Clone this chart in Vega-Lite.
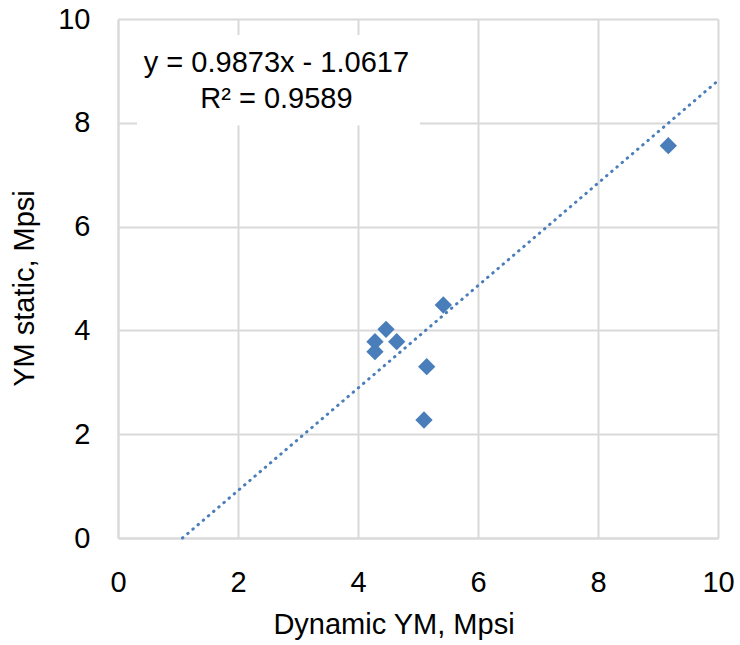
{
  "$schema": "https://vega.github.io/schema/vega-lite/v6.json",
  "autosize": {"type": "none"},
  "width": 600,
  "height": 519,
  "padding": {"left": 118, "top": 19, "right": 22, "bottom": 107},
  "background": "white",
  "config": {
    "view": {"stroke": null},
    "font": "Liberation Sans",
    "axis": {
      "labelFont": "Liberation Sans",
      "titleFont": "Liberation Sans",
      "labelFontSize": 29,
      "titleFontSize": 29,
      "labelColor": "#000000",
      "titleColor": "#000000",
      "titleFontWeight": "normal",
      "gridColor": "#d9d9d9",
      "gridWidth": 2,
      "domainColor": "#d9d9d9",
      "domainWidth": 2,
      "ticks": false,
      "labelFlush": false,
      "labelOverlap": false,
      "format": "d"
    }
  },
  "datasets": {
    "samples": [
      {"dynamic": 4.467, "static": 4.021},
      {"dynamic": 4.283, "static": 3.782},
      {"dynamic": 4.283, "static": 3.59},
      {"dynamic": 4.645, "static": 3.782},
      {"dynamic": 5.422, "static": 4.489},
      {"dynamic": 5.145, "static": 3.301},
      {"dynamic": 5.1, "static": 2.274},
      {"dynamic": 9.172, "static": 7.559}
    ],
    "trend": [
      {"dynamic": 1.0754, "static": 0},
      {"dynamic": 10, "static": 8.8113}
    ]
  },
  "layer": [
    {
      "data": {"name": "trend"},
      "mark": {
        "type": "line",
        "color": "#4a7ebb",
        "strokeWidth": 3,
        "strokeCap": "round",
        "strokeDash": [0.5, 6.3]
      },
      "encoding": {
        "x": {
          "field": "dynamic",
          "type": "quantitative",
          "scale": {"domain": [0, 10], "nice": false, "zero": false},
          "axis": {
            "values": [0, 2, 4, 6, 8, 10],
            "format": "d",
            "labelFlush": false,
            "labelPadding": 30,
            "labelBaseline": "top",
            "title": "Dynamic YM, Mpsi",
            "titleX": 275.5,
            "titleY": 95,
            "titleBaseline": "alphabetic"
          }
        },
        "y": {
          "field": "static",
          "type": "quantitative",
          "scale": {"domain": [0, 10], "nice": false, "zero": false},
          "axis": {
            "values": [0, 2, 4, 6, 8, 10],
            "format": "d",
            "labelFlush": false,
            "labelPadding": 28,
            "title": "YM static, Mpsi",
            "titleAngle": -90,
            "titleX": -85,
            "titleY": 269,
            "titleAlign": "center",
            "titleBaseline": "alphabetic"
          }
        }
      }
    },
    {
      "data": {"name": "samples"},
      "mark": {"type": "point", "shape": "diamond", "filled": true, "size": 300, "color": "#4a7ebb", "opacity": 1},
      "encoding": {
        "x": {"field": "dynamic", "type": "quantitative"},
        "y": {"field": "static", "type": "quantitative"}
      }
    },
    {
      "data": {"values": [{}]},
      "mark": {"type": "rect", "color": "white"},
      "encoding": {
        "x": {"datum": 0.317},
        "x2": {"datum": 5.033},
        "y": {"datum": 9.69},
        "y2": {"datum": 7.95}
      }
    },
    {
      "data": {"values": [{"line": "y = 0.9873x - 1.0617", "at": 8.979}, {"line": "R² = 0.9589", "at": 8.285}]},
      "mark": {"type": "text", "font": "Liberation Sans", "fontSize": 29, "color": "#000000", "align": "center", "baseline": "alphabetic"},
      "encoding": {
        "x": {"datum": 2.64},
        "y": {"field": "at", "type": "quantitative"},
        "text": {"field": "line"}
      }
    }
  ]
}
